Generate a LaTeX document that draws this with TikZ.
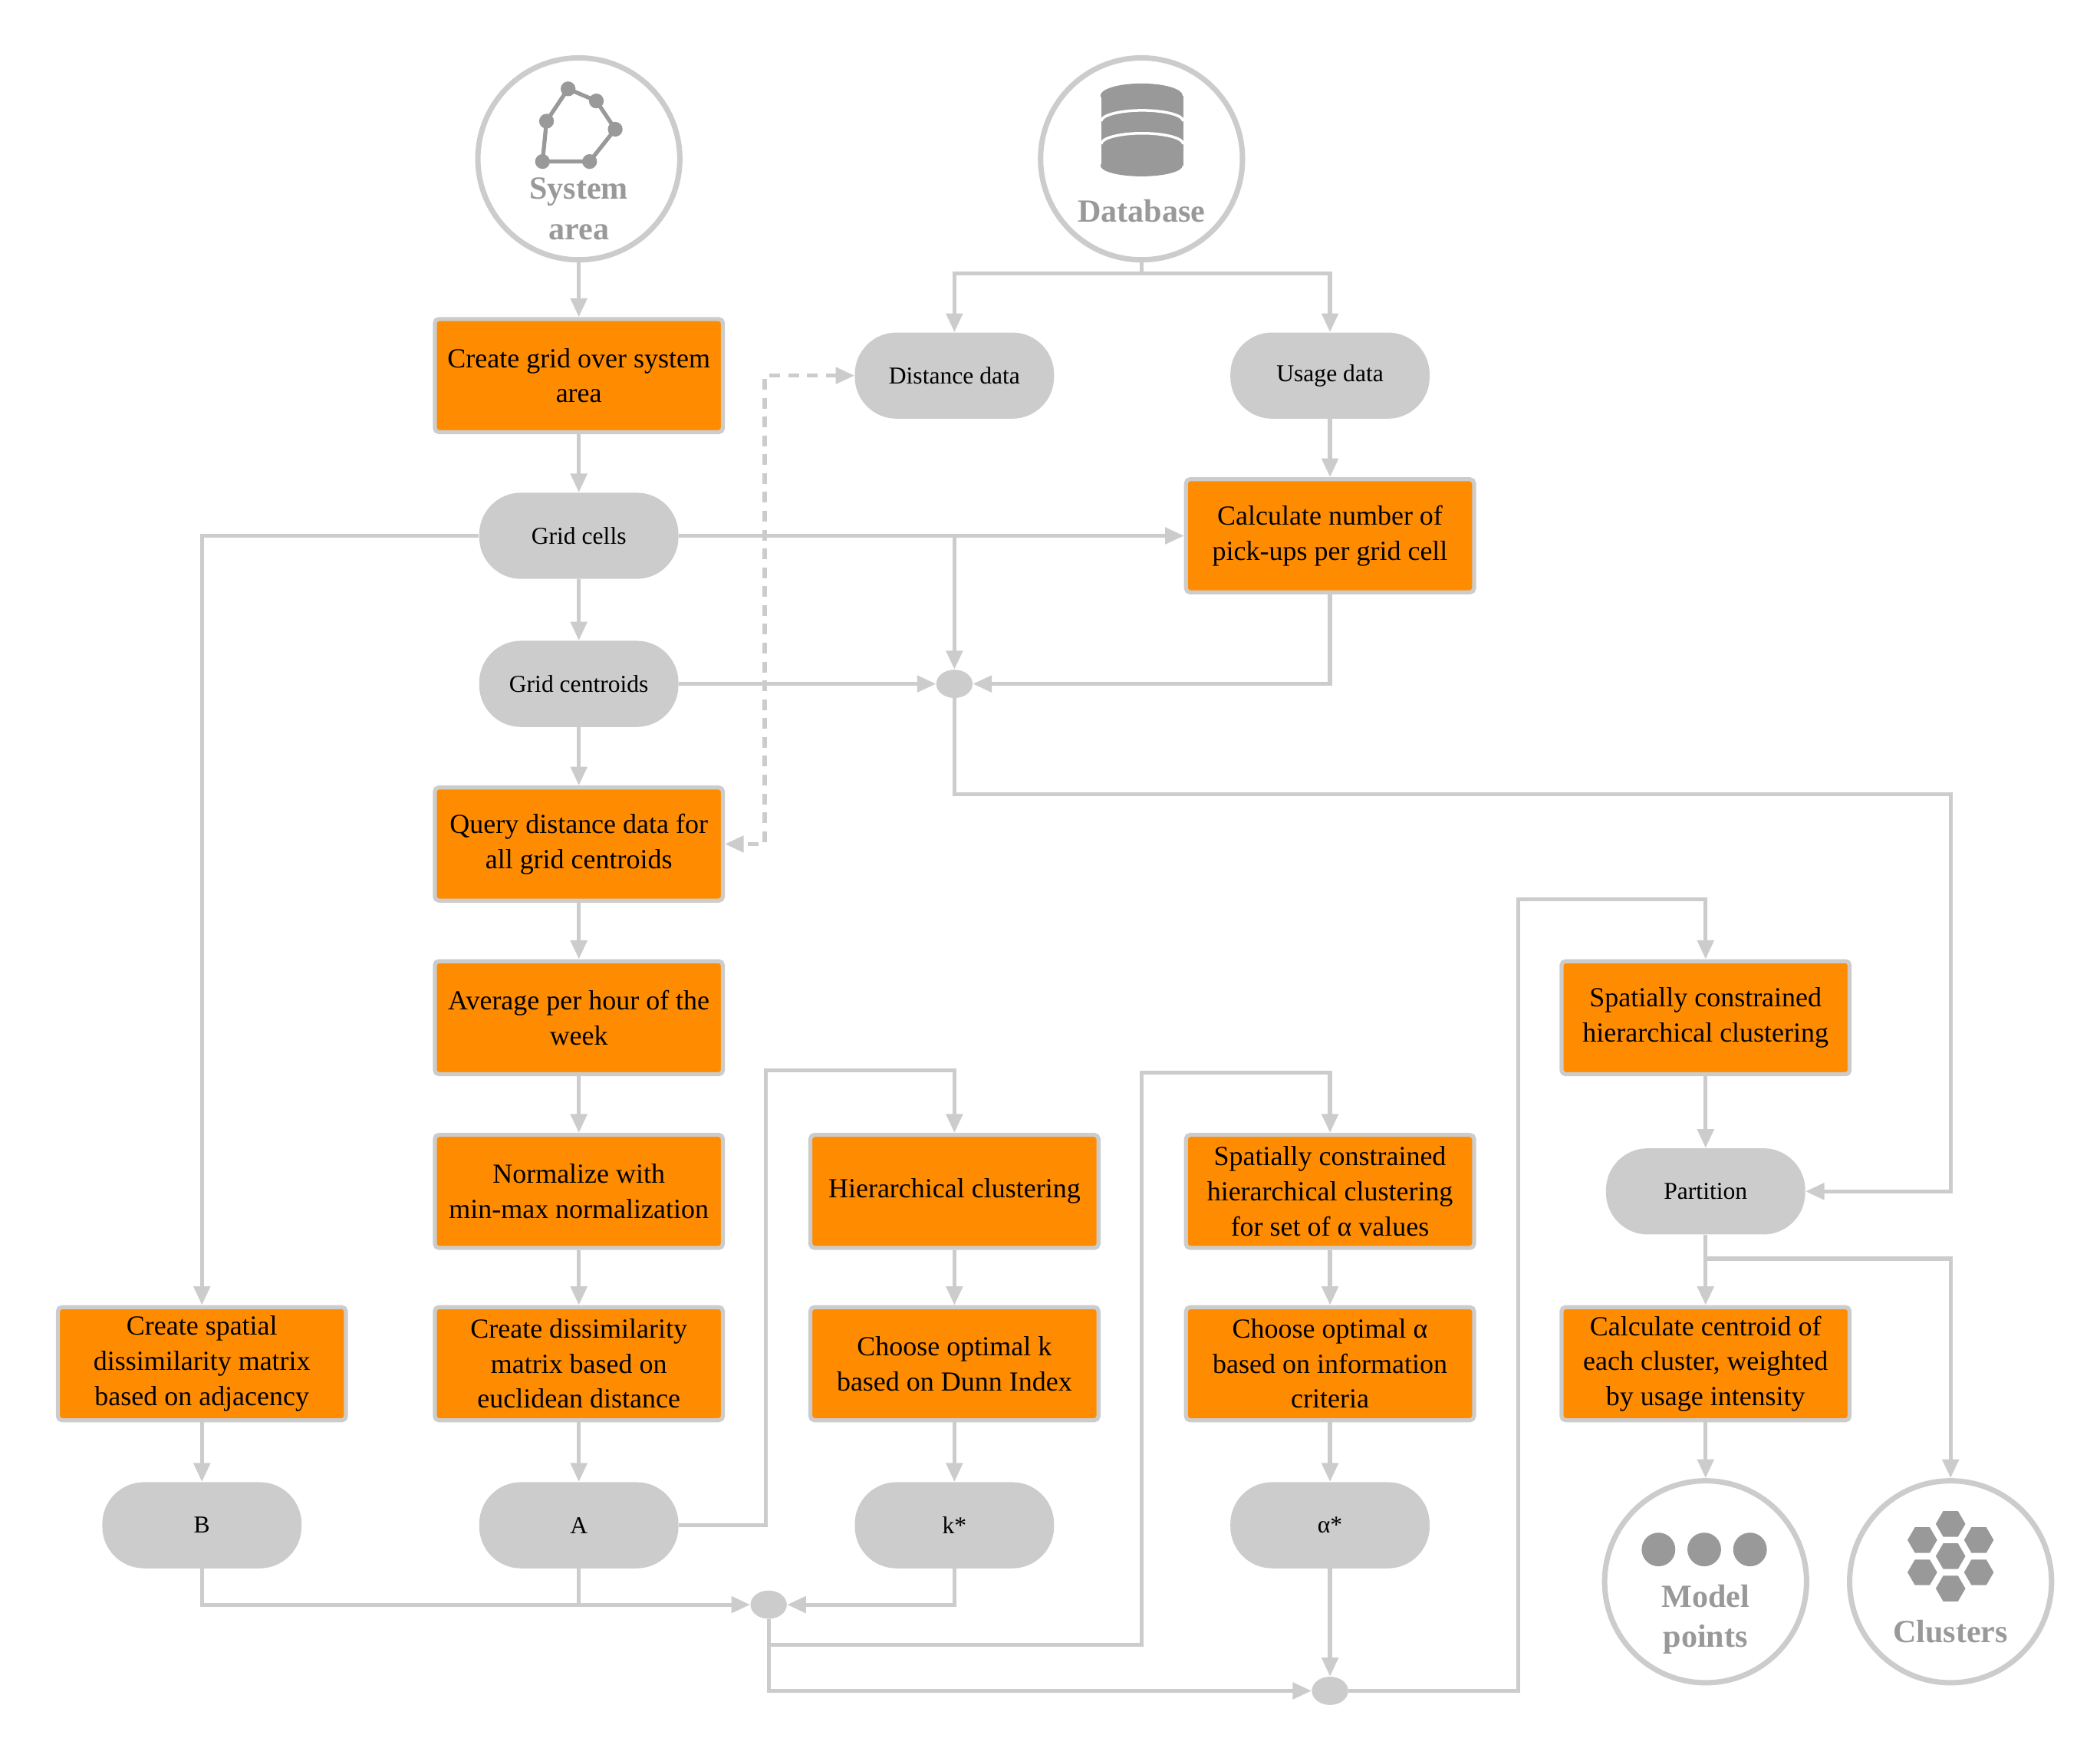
\documentclass[tikz,border=0pt]{standalone}
\usepackage{fontspec}
\setmainfont{Liberation Serif}
\usetikzlibrary{arrows.meta,shapes.geometric}
\definecolor{ln}{HTML}{CCCCCC}
\definecolor{og}{HTML}{FF8C00}
\definecolor{ic}{HTML}{999999}
\begin{document}
\begin{tikzpicture}[x=1pt,y=-1pt,
 box/.style={draw=ln,line width=3pt,rounded corners=3pt,fill=og,minimum width=214pt,minimum height=84pt,align=center,inner sep=1pt,font=\fontsize{20.5}{26}\selectfont},
 pill/.style={fill=ln,rounded corners=31pt,minimum width=148pt,minimum height=64pt,font=\fontsize{18}{22}\selectfont},
 junc/.style={fill=ln,ellipse,minimum width=27pt,minimum height=21pt,inner sep=0pt},
 circ/.style={draw=ln,line width=4pt,circle,minimum size=150pt},
 lbl/.style={text=ic,font=\fontsize{24}{30}\selectfont\bfseries,align=center},
 c/.style={draw=ln,line width=3pt},
 a/.style={c,-{Triangle[length=14pt,width=12pt]}},
 aa/.style={c,{Triangle[length=14pt,width=12pt]}-{Triangle[length=14pt,width=12pt]}}]
\useasboundingbox (0,0) rectangle (1560,1298);
% circles
\node[circ] (sys) at (430,118) {};
\node[lbl] at (430,155) {System\\area};
\draw[ic,line width=3pt] (403,120)--(406,90)--(422,66)--(443,75)--(457,96)--(438,120)--cycle;
\foreach \p in {(403,120),(406,90),(422,66),(443,75),(457,96),(438,120)} \fill[ic] \p circle (5.5);
\node[circ] (db) at (848,118) {};
\node[lbl] at (848,157) {Database};
\foreach \yy in {105,88,71}{\fill[ic] (818,\yy) rectangle (879,\yy+18); \fill[ic] (848,\yy+18) ellipse (30.5 and 8);}
\fill[ic] (848,71) ellipse (30.5 and 9);
\foreach \yy in {90,107}{\draw[white,line width=2pt] (818,\yy) arc (180:360:30.5 and 8);}
\node[circ] (mp) at (1267,1175) {};
\node[lbl] at (1267,1203) {Model\\points};
\foreach \xx in {1232,1266,1300}\fill[ic] (\xx,1151) circle (12.5);
\node[circ] (cl) at (1449,1175) {};
\node[lbl] at (1449,1212) {Clusters};
\foreach \cx/\cy in {1449/1132,1428/1144,1470/1144,1449/1156,1428/1168,1470/1168,1449/1180}
  \fill[ic] (\cx,\cy) ++(11,0) -- ++(120:11) -- ++(180:11) -- ++(240:11) -- ++(300:11) -- ++(0:11) -- cycle;
% boxes
\node[box] (cg) at (430,279) {Create grid over system\\area};
\node[pill] (dd) at (709,279) {Distance data};
\node[pill] (ud) at (988,279) {Usage data};
\node[pill] (gc) at (430,398) {Grid cells};
\node[box] (cn) at (988,398) {Calculate number of\\pick-ups per grid cell};
\node[pill] (gce) at (430,508) {Grid centroids};
\node[junc] (j1) at (709,508) {};
\node[box] (q) at (430,627) {Query distance data for\\all grid centroids};
\node[box] (av) at (430,756) {Average per hour of the\\week};
\node[box] (no) at (430,885) {Normalize with\\min-max normalization};
\node[box] (cd) at (430,1013) {Create dissimilarity\\matrix based on\\euclidean distance};
\node[box] (cs) at (150,1013) {Create spatial\\dissimilarity matrix\\based on adjacency};
\node[box] (hc) at (709,885) {Hierarchical clustering};
\node[box] (ck) at (709,1013) {Choose optimal k\\based on Dunn Index};
\node[box] (sa) at (988,885) {Spatially constrained\\hierarchical clustering\\for set of α values};
\node[box] (ca) at (988,1013) {Choose optimal α\\based on information\\criteria};
\node[box] (sh) at (1267,756) {Spatially constrained\\hierarchical clustering};
\node[pill] (pa) at (1267,885) {Partition};
\node[box] (cc) at (1267,1013) {Calculate centroid of\\each cluster, weighted\\by usage intensity};
\node[pill] (B) at (150,1133) {B};
\node[pill] (A) at (430,1133) {A};
\node[pill] (k) at (709,1133) {k*};
\node[pill] (al) at (988,1133) {α*};
\node[junc] (j2) at (571,1192) {};
\node[junc] (j3) at (988,1256) {};
\coordinate (dbs) at (848,203);
% connectors
\draw[a] (sys)--(cg);
\draw[c] (db)--(dbs);
\draw[a] (dbs)-|(dd);
\draw[a] (dbs)-|(ud);
\draw[a] (cg)--(gc);
\draw[a] (gc)--(gce);
\draw[a] (gc.west)-|(cs);
\draw[a] (gc.east)--(cn.west);
\draw[a] (709,398)--(j1);
\draw[a] (ud)--(cn);
\draw[a] (cn.south)|-(j1.east);
\draw[a] (gce)--(j1);
\draw[a] (j1)|-(1449,590)|-(pa.east);
\draw[aa,dash pattern=on 8pt off 6pt] (dd.west)-|(568,627)--(q.east);
\draw[a] (gce)--(q);
\draw[a] (q)--(av);
\draw[a] (av)--(no);
\draw[a] (no)--(cd);
\draw[a] (cd)--(A);
\draw[a] (cs)--(B);
\draw[a] (A.east)-|(569,795)-|(hc);
\draw[a] (hc)--(ck);
\draw[a] (ck)--(k);
\draw[a] (B.south)|-(j2.west);
\draw[c] (A.south)--(430,1192);
\draw[a] (k.south)|-(j2.east);
\draw[a] (j2)|-(848,1222)|-(988,797)--(sa.north);
\draw[a] (j2)|-(j3.west);
\draw[a] (sa)--(ca);
\draw[a] (ca)--(al);
\draw[a] (al)--(j3);
\draw[a] (j3.east)-|(1128,668)-|(sh);
\draw[a] (sh)--(pa);
\draw[a] (pa)--(cc);
\draw[a] (cc)--(mp);
\draw[a] (1267,935)-|(cl);
\end{tikzpicture}
\end{document}
